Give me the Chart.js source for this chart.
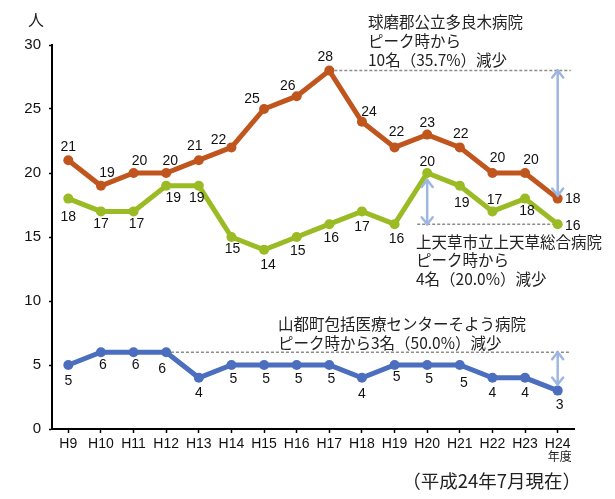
<!DOCTYPE html>
<html>
<head>
<meta charset="utf-8">
<script src="https://cdn.jsdelivr.net/npm/chart.js@4.4.0/dist/chart.umd.min.js"></script>
<style>
  html, body { margin:0; padding:0; background:#fff; }
  #wrap { width:615px; height:499px; position:relative; }
</style>
</head>
<body>
<div id="wrap"><canvas id="chart"></canvas></div>
<script>
/* ── DATA ─────────────────────────────────────────────── */
const years  = ['H9','H10','H11','H12','H13','H14','H15','H16','H17','H18','H19','H20','H21','H22','H23','H24'];
const taragi = [21,19,20,20,21,22,25,26,28,24,22,23,22,20,20,18];   // 球磨郡公立多良木病院
const kamiamakusa = [18,17,17,19,19,15,14,15,16,17,16,20,19,17,18,16]; // 上天草総合病院
const soyou  = [5,6,6,6,4,5,5,5,5,4,5,5,5,4,4,3];                    // そよう病院
const yTicks = [0,5,10,15,20,25,30];

const noteTaragi = ['球磨郡公立多良木病院', 'ピーク時から', '10名（35.7%）減少'];
const noteKami   = ['上天草市立上天草総合病院', 'ピーク時から', '4名（20.0%）減少'];
const noteSoyou  = ['山都町包括医療センターそよう病院', 'ピーク時から3名（50.0%）減少'];

/* ── LABEL OFFSETS (style only) ───────────────────────── */
const offTaragi = [[0,-13],[6,-13],[6,-12],[4,-12],[-4,-14],[-13,-7],[-12,-10],[-9,-10],[-4,-13],[7,-10],[2,-15],[0,-11],[1,-13],[5,-15],[6,-13],[15,1]];
const offKami   = [[0,19],[0,13],[3,13],[7,12],[-2,12],[1,12],[4,15],[1,14],[2,14],[0,16],[2,15],[0,-11],[2,17],[2,-11],[2,13],[15,2]];
const offSoyou  = [[0,16],[2,13],[2,13],[-4,17],[0,15],[2,14],[2,14],[2,14],[2,14],[0,16],[2,12],[2,14],[4,18],[0,15],[0,15],[2,15]];

const COL_ORANGE = '#C0561E';
const COL_GREEN  = '#9ABB24';
const COL_BLUE   = '#4B6FBE';
const COL_ARROW  = '#9DB6E2';
const JP = '"Noto Sans CJK JP", "Noto Sans", sans-serif';
const NUM = '"Liberation Sans", Arial, sans-serif';

function lineDs(label, data, color, offs) {
  return {
    label, data, offs,
    borderColor: color, backgroundColor: color,
    borderWidth: 5, pointRadius: 5, pointHoverRadius: 5,
    pointBorderWidth: 0, tension: 0, fill: false,
  };
}

/* ── DRAWING HELPERS ─────────────────────────────────── */
function dashed(ctx, x1, x2, y) {
  ctx.save();
  ctx.strokeStyle = '#8c8c8c';
  ctx.lineWidth = 1.5;
  ctx.setLineDash([3,2]);
  ctx.beginPath(); ctx.moveTo(x1, y); ctx.lineTo(x2, y); ctx.stroke();
  ctx.restore();
}

function arrow(ctx, x, y1, y2) {
  ctx.save();
  ctx.strokeStyle = COL_ARROW;
  ctx.lineWidth = 2.5;
  ctx.lineCap = 'round';
  ctx.beginPath(); ctx.moveTo(x, y1); ctx.lineTo(x, y2); ctx.stroke();
  const h = 7, w = 5.5;
  ctx.beginPath();
  ctx.moveTo(x - w, y1 + h); ctx.lineTo(x, y1); ctx.lineTo(x + w, y1 + h);
  ctx.moveTo(x - w, y2 - h); ctx.lineTo(x, y2); ctx.lineTo(x + w, y2 - h);
  ctx.stroke();
  ctx.restore();
}

function textLines(ctx, lines, x, y, lh) {
  lines.forEach((t, i) => ctx.fillText(t, x, y + i * lh));
}

/* ── PLUGINS ─────────────────────────────────────────── */
const guides = {
  id: 'guides',
  beforeDatasetsDraw(chart) {
    const ctx = chart.ctx, xs = chart.scales.x, ys = chart.scales.y;
    const last = years.length - 1;
    const xLast = xs.getPixelForValue(last);

    // 多良木: peak -> now
    const pT = taragi.indexOf(Math.max(...taragi));
    dashed(ctx, xs.getPixelForValue(pT), xLast + 13, ys.getPixelForValue(taragi[pT]));
    // 上天草
    const pK = kamiamakusa.indexOf(Math.max(...kamiamakusa));
    dashed(ctx, xs.getPixelForValue(pK) - 10, xLast, ys.getPixelForValue(kamiamakusa[last]));
    // そよう
    const pS = soyou.indexOf(Math.max(...soyou));
    dashed(ctx, xs.getPixelForValue(pS), xLast + 13, ys.getPixelForValue(soyou[pS]));
  },
  afterDatasetsDraw(chart) {
    const ctx = chart.ctx, xs = chart.scales.x, ys = chart.scales.y;
    const last = years.length - 1;
    const xLast = xs.getPixelForValue(last);

    arrow(ctx, xLast, ys.getPixelForValue(Math.max(...taragi)), ys.getPixelForValue(taragi[last]) - 3);
    const pK = kamiamakusa.indexOf(Math.max(...kamiamakusa));
    arrow(ctx, xs.getPixelForValue(pK), ys.getPixelForValue(kamiamakusa[pK]) + 7, ys.getPixelForValue(kamiamakusa[last]));
    arrow(ctx, xLast, ys.getPixelForValue(Math.max(...soyou)), ys.getPixelForValue(soyou[last]) - 6);

    // data labels
    ctx.save();
    ctx.fillStyle = '#111';
    ctx.font = '14px ' + NUM;
    ctx.textAlign = 'center';
    ctx.textBaseline = 'middle';
    chart.data.datasets.forEach((ds, di) => {
      chart.getDatasetMeta(di).data.forEach((pt, i) => {
        const o = ds.offs[i];
        ctx.fillText(String(ds.data[i]), pt.x + o[0], pt.y + o[1]);
      });
    });

    // notes
    ctx.fillStyle = '#222';
    ctx.font = '15.5px ' + JP;
    ctx.textAlign = 'left';
    textLines(ctx, noteTaragi, 368, 22, 19);
    textLines(ctx, noteKami, 416, 242, 18.5);
    textLines(ctx, noteSoyou, 278, 324, 19);

    // unit, year note, date
    ctx.font = '16px ' + JP;
    ctx.fillText('人', 28, 20);
    ctx.font = '12px ' + JP;
    ctx.textAlign = 'center';
    ctx.fillText('年度', xLast + 2, 456);
    ctx.font = '18.5px ' + JP;
    ctx.textAlign = 'right';
    ctx.fillText('（平成24年7月現在）', 581, 481);
    ctx.restore();
  },
};

/* ── CHART ───────────────────────────────────────────── */
new Chart(document.getElementById('chart').getContext('2d'), {
  type: 'line',
  data: {
    labels: years,
    datasets: [
      lineDs('そよう病院', soyou, COL_BLUE, offSoyou),
      lineDs('上天草総合病院', kamiamakusa, COL_GREEN, offKami),
      lineDs('多良木病院', taragi, COL_ORANGE, offTaragi),
    ],
  },
  options: {
    responsive: true, maintainAspectRatio: false, animation: false,
    layout: { padding: { left: 0, right: 41, top: 45, bottom: 0 } },
    plugins: { legend: { display: false }, tooltip: { enabled: false } },
    scales: {
      x: {
        offset: true,
        grid: { drawOnChartArea: false, tickLength: 4, tickColor: '#000', tickWidth: 1.5 },
        border: { color: '#000', width: 2 },
        ticks: { color: '#111', font: { size: 14, family: NUM }, padding: 3, maxRotation: 0, autoSkip: false },
        afterFit: s => { s.height = 70; },
      },
      y: {
        min: 0, max: 30,
        afterBuildTicks: s => { s.ticks = yTicks.map(v => ({ value: v })); },
        grid: { drawOnChartArea: false, tickLength: 3, tickColor: '#000', tickWidth: 1.5 },
        border: { color: '#000', width: 2 },
        ticks: { color: '#111', font: { size: 15, family: NUM }, padding: 8 },
        afterFit: s => { s.width = 52; },
      },
    },
  },
  plugins: [guides],
});
</script>
</body>
</html>
